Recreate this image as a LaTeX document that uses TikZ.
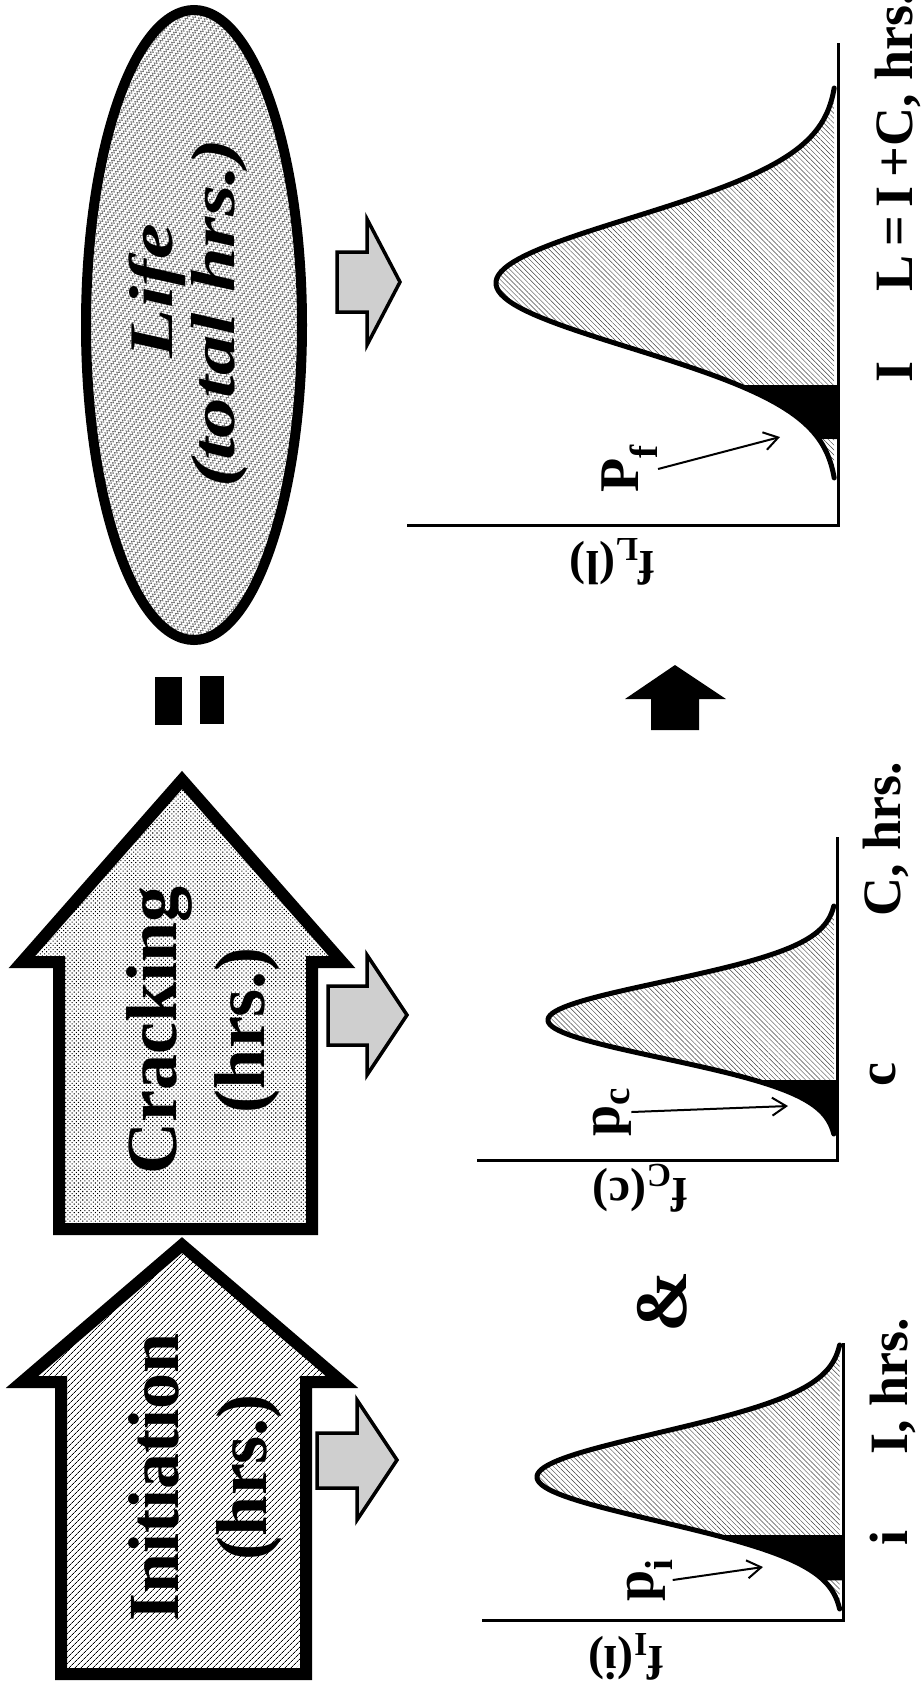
\documentclass[tikz,border=0pt]{standalone}
\usepackage{fontspec}
\setmainfont{Liberation Serif}
\usetikzlibrary{patterns,patterns.meta,arrows.meta,shapes.geometric}
\tikzdeclarepattern{
  name=zigzag,
  type=uncolored,
  bounding box={(-1pt,-1pt) and (7pt,4pt)},
  tile size={(6pt,5pt)},
  tile transformation={rotate=50},
  code={\draw[line width=0.55pt] (0pt,0pt) -- (1.5pt,3pt) -- (3pt,0pt) -- (4.5pt,3pt) -- (6pt,0pt);}
}
\begin{document}
\begin{tikzpicture}[x=1pt, y=-1pt,
  outline/.style={draw=black, line width=12pt, line join=miter},
  grayarr/.style={draw=black, line width=3.5pt, fill=gray!38, line join=miter},
  axisline/.style={line width=3pt},
  curve/.style={line width=5pt, line join=round, line cap=round},
  under/.style={pattern={Lines[angle=-45,distance=3.5pt,line width=0.45pt]}, pattern color=black!75},
  title/.style={font=\fontsize{72}{88}\selectfont\bfseries, rotate=90, align=center, inner sep=0pt},
  lifefont/.style={font=\fontsize{62}{64}\selectfont\bfseries\itshape, rotate=90, xscale=1.3, inner sep=0pt},
  lbl/.style={font=\fontsize{54}{60}\selectfont\bfseries, rotate=90, inner sep=0pt},
  plbl/.style={font=\fontsize{56}{60}\selectfont\bfseries, rotate=90, inner sep=0pt},
  flbl/.style={font=\fontsize{48}{52}\selectfont\bfseries, rotate=180, inner sep=0pt},
  parrow/.style={line width=2pt, -{Straight Barb[length=14pt,width=18pt,line width=2pt]}},
]
\useasboundingbox (0,0) rectangle (923,1690);

% ---------- Life ellipse ----------
\node[ellipse, draw=black, line width=10pt, minimum width=216pt, minimum height=630pt,
      pattern=zigzag, pattern color=black!60] (life) at (194,325) {};
\node[lifefont, anchor=base] (lifeA) at (172,291) {Life};
\node[lifefont, anchor=base] (lifeB) at (234,313) {(total hrs.)};

% ---------- equals sign ----------
\fill[black] (155,677) rectangle (182,725);
\fill[black] (200,676) rectangle (224,724);

% ---------- Cracking arrow ----------
\draw[outline, pattern={Dots[angle=45,distance=3pt,radius=0.75pt]}]
  (182,780) -- (342,962) -- (312,962) -- (312,1229) -- (59,1229) -- (59,962) -- (22,962) -- cycle;
\node[title] (crack) at (203,1030) {Cracking\\(hrs.)};

% ---------- Initiation arrow ----------
\draw[outline, pattern={Lines[angle=45,distance=4pt,line width=0.7pt]}]
  (182,1245) -- (342,1382) -- (306,1382) -- (306,1674) -- (61,1674) -- (61,1382) -- (22,1382) -- cycle;
\node[title] (init) at (205,1477) {Initiation\\(hrs.)};

% ---------- small gray arrows ----------
\draw[grayarr] (337,252) -- (367,252) -- (367,219) -- (400,282) -- (367,345) -- (367,312) -- (337,312) -- cycle;
\draw[grayarr] (328,986) -- (367,986) -- (367,955) -- (407,1015) -- (367,1075) -- (367,1045) -- (328,1045) -- cycle;
\draw[grayarr] (317,1433) -- (357,1433) -- (357,1400) -- (397,1460) -- (357,1520) -- (357,1488) -- (317,1488) -- cycle;

% ---------- black arrow ----------
\fill[black] (675,665) -- (726,699) -- (699,699) -- (699,730) -- (651,730) -- (651,699) -- (625,699) -- cycle;

% ---------- ampersand ----------
\node[font=\fontsize{74}{80}\selectfont\bfseries, rotate=90, inner sep=0pt] (amp) at (662,1302) {\&};

% ---------- Life graph ----------
\begin{scope}
\def\XO{838}\def\YC{283}\def\HH{342}\def\SS{65}
\fill[under] plot[domain=-3:3,samples=120] ({\XO-\HH*exp(-(\x)*(\x)/2)},{\YC+\SS*\x}) -- cycle;
\fill[black] plot[domain=1.57:2.4,samples=40] ({\XO-\HH*exp(-(\x)*(\x)/2)},{\YC+\SS*\x})
  -- ({\XO},{\YC+\SS*2.4}) -- ({\XO},{\YC+\SS*1.57}) -- cycle;
\draw[curve] plot[domain=-3:3,samples=120] ({\XO-\HH*exp(-(\x)*(\x)/2)},{\YC+\SS*\x});
\draw[axisline] (838,43) -- (838,525) -- (407,525);
\end{scope}
\node[lbl, anchor=base] (Ilab) at (912,372) {I};
\node[lbl, anchor=base west] (Laxis) at (912,292) {L\,=\,I\,+C, hrs.};
\node[plbl] (pf) at (630,469) {P\textsubscript{f}};
\coordinate (pfT) at (780,437);
\draw[parrow] (pf.south) -- (pfT);
\node[flbl] (fL) at (612,562) {f\textsubscript{L}(l)};

% ---------- Cracking graph ----------
\begin{scope}
\def\XO{837}\def\YC{1020}\def\HH{289}\def\SS{38}
\fill[under] plot[domain=-3:3,samples=120] ({\XO-\HH*exp(-(\x)*(\x)/2)},{\YC+\SS*\x}) -- cycle;
\fill[black] plot[domain=1.58:3,samples=40] ({\XO-\HH*exp(-(\x)*(\x)/2)},{\YC+\SS*\x})
  -- ({\XO},{\YC+\SS*3}) -- ({\XO},{\YC+\SS*1.58}) -- cycle;
\draw[curve] plot[domain=-3:3,samples=120] ({\XO-\HH*exp(-(\x)*(\x)/2)},{\YC+\SS*\x});
\draw[axisline] (837,837) -- (837,1160) -- (477,1160);
\end{scope}
\node[lbl, anchor=base] (clab) at (895,1075) {c};
\node[lbl, anchor=base] (Caxis) at (900,839) {C, hrs.};
\node[plbl] (pc) at (612,1112) {p\textsubscript{c}};
\coordinate (pcT) at (788,1106);
\draw[parrow] (pc.south) -- (pcT);
\node[flbl] (fC) at (640,1188) {f\textsubscript{C}(c)};

% ---------- Initiation graph ----------
\begin{scope}
\def\XO{843}\def\YC{1477}\def\HH{306}\def\SS{44}
\fill[under] plot[domain=-3:3,samples=120] ({\XO-\HH*exp(-(\x)*(\x)/2)},{\YC+\SS*\x}) -- cycle;
\fill[black] plot[domain=1.32:2.35,samples=40] ({\XO-\HH*exp(-(\x)*(\x)/2)},{\YC+\SS*\x})
  -- ({\XO},{\YC+\SS*2.35}) -- ({\XO},{\YC+\SS*1.32}) -- cycle;
\draw[curve] plot[domain=-3:3,samples=120] ({\XO-\HH*exp(-(\x)*(\x)/2)},{\YC+\SS*\x});
\draw[axisline] (843,1343) -- (843,1620) -- (482,1620);
\end{scope}
\node[lbl, anchor=base] (ilab) at (907,1538) {i};
\node[lbl, anchor=base] (Iaxis) at (907,1386) {I, hrs.};
\node[plbl] (pi) at (650,1580) {p\textsubscript{i}};
\coordinate (piT) at (763,1567);
\draw[parrow] (pi.south) -- (piT);
\node[flbl] (fI) at (626,1657) {f\textsubscript{I}(i)};
\end{tikzpicture}
\end{document}
